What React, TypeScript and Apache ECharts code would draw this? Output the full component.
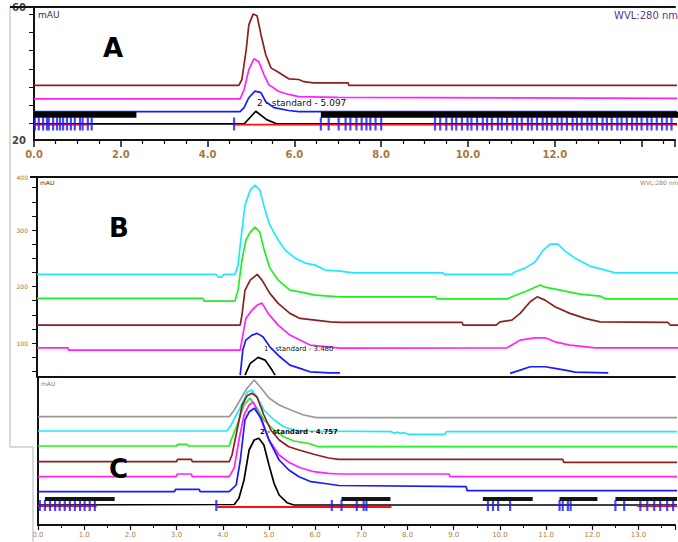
import React, { useEffect, useRef } from 'react';
import * as echarts from 'echarts';

// ---------- Panel A (time, min / mAU) ----------
const aXMaxLabel = 12;
const aBrown = [[0,35.5],[4.72,35.5],[4.79,37.1],[4.89,45.3],[4.95,52.1],[5.05,55.1],[5.14,54.6],[5.23,49.4],[5.34,43.9],[5.46,40.3],[5.64,39.0],[5.87,37.3],[6.10,37.1],[6.22,36.5],[6.44,36.2],[7.24,36.2],[7.25,35.5],[15.4,35.5]];
const aMagenta = [[0,31.8],[4.75,31.8],[4.84,34.3],[4.95,39.8],[5.07,42.8],[5.18,42.0],[5.30,38.4],[5.41,35.7],[5.64,33.8],[5.87,33.0],[6.10,32.4],[7.0,32.2],[15.4,31.9]];
const aBlue = [[0,28.3],[4.75,28.3],[4.84,29.4],[4.95,32.1],[5.09,33.9],[5.23,33.5],[5.34,31.0],[5.53,29.4],[5.87,28.6],[6.10,28.3],[15.4,28.3]];
const aBlack = [[0,24.9],[4.84,24.9],[5.11,28.4],[5.36,26.1],[5.6,24.9],[15.4,24.9]];
const aRed = [[[0,24.7],[1.28,24.7]],[[4.59,24.7],[15.4,24.7]]];
const aBands = [[[0,27.4],[2.36,27.4]],[[6.61,27.4],[15.4,27.4]]];
const aTickLevel = 24.9;
const aTicks = [0.02,0.11,0.21,0.30,0.34,0.44,0.53,0.60,0.67,0.76,0.85,0.94,1.06,1.12,1.24,1.33,4.61,6.61,6.79,7.02,7.18,7.29,7.43,7.55,7.66,7.75,7.87,8.00,9.24,9.36,9.50,9.63,9.73,9.86,9.99,10.08,10.21,10.34,10.44,10.55,10.69,10.78,10.90,11.03,11.13,11.24,11.38,11.47,11.59,11.72,11.82,11.93,12.06,12.16,12.28,12.41,12.51,12.62,12.75,12.85,12.97,13.10,13.20,13.31,13.44,13.54,13.66,13.78,13.89,14.00,14.13,14.23,14.35,14.47,14.58,14.69];
const aYTicks = [25,30,35,40,45,50,55];
const aYLabels = [20.5,57];

// ---------- Panel B ----------
const bCyan = [[0,221.6],[4.11,221.6],[4.15,216.8],[4.24,216.8],[4.28,221.6],[4.54,221.6],[4.61,238],[4.70,300],[4.77,344],[4.89,370.8],[5.0,379.6],[5.11,370.8],[5.23,335.4],[5.34,308.8],[5.53,282.3],[5.69,264.6],[5.92,250.4],[6.15,241.6],[6.38,238],[6.61,229.2],[6.95,227.4],[7.25,224.4],[9.31,224.4],[9.33,221.6],[10.89,221.6],[10.92,224.4],[11.19,232.7],[11.42,243.4],[11.61,264.6],[11.77,275.2],[11.95,275.2],[12.11,262.8],[12.34,250.4],[12.68,236.3],[13.03,229.2],[13.26,224.4],[15.4,224.4]];
const bGreen = [[0,179.1],[3.81,179.1],[3.83,174.3],[4.54,174.3],[4.61,193.8],[4.70,246.7],[4.79,282.3],[4.89,296.5],[5.0,305.3],[5.11,296.5],[5.21,264.6],[5.34,232.7],[5.53,211.5],[5.80,193.8],[6.03,190.8],[6.38,185],[6.95,181.9],[9.15,181.9],[9.17,178.4],[10.80,178.4],[10.89,181.9],[11.19,190.8],[11.54,202.7],[11.65,199.1],[11.88,195.6],[12.22,190.3],[12.45,186.7],[12.91,183.2],[13.03,178.4],[15.4,178.4]];
const bBrown = [[0,131.9],[4.66,131.9],[4.70,149.6],[4.77,193.8],[4.89,211.5],[5.05,221.6],[5.16,211.5],[5.34,188],[5.53,170.3],[5.80,152.6],[6.03,143.7],[6.38,140.7],[6.72,137.7],[6.95,136.6],[9.75,136.6],[9.77,131.9],[10.53,131.9],[10.62,137.7],[10.89,140.7],[11.08,152.6],[11.31,173.1],[11.47,181.9],[11.65,176.1],[11.88,164.2],[12.22,152.6],[12.57,143.7],[12.91,137.7],[14.47,136.6],[14.52,131.9],[15.4,131.9]];
const bMagenta = [[0,91.7],[0.71,91.7],[0.73,87.6],[4.66,87.6],[4.72,114.2],[4.79,143.7],[4.93,158.4],[5.05,167.3],[5.16,170.8],[5.30,152.6],[5.53,131.9],[5.80,114.2],[6.03,105.3],[6.26,96.5],[6.72,92.9],[6.95,91.2],[10.78,91.7],[10.89,96.5],[11.08,105.3],[11.42,109.4],[11.65,109.4],[11.88,102.3],[12.22,96.5],[12.45,94.7],[12.80,91.7],[15.4,91.7]];
const bBlue = [[[4.66,43.4],[4.72,87.6],[4.79,105.3],[4.93,114.2],[5.05,117.2],[5.18,111.2],[5.34,93.5],[5.57,75.8],[5.80,61.1],[6.03,55.2],[6.26,49.2],[6.72,47.4],[6.95,47.4]],[[10.85,46.4],[11.08,52.2],[11.31,58.1],[11.65,58.1],[11.88,55.2],[12.11,52.2],[12.34,48.5],[13.10,47.4]]];
const bBlack = [[4.77,43.4],[4.89,64.1],[5.07,74.7],[5.23,69.9],[5.39,52.2],[5.46,43.4]];
const bYTicks = [50,75,100,125,150,175,200,225,250,275,300,325,350,375];
const bYLabels = [100,200,300,394];

// ---------- Panel C ----------
const cGray = [[0,88.3],[4.14,88.3],[4.25,95],[4.40,107],[4.53,117],[4.68,125],[4.83,117],[5.0,107],[5.22,100],[5.47,95],[5.75,90],[6.03,87.3],[14.5,87.3]];
const cCyan = [[0,74],[4.09,74],[4.18,80],[4.35,95],[4.53,112.7],[4.63,115],[4.74,108],[4.89,95],[5.11,85],[5.32,78.3],[5.54,75],[5.75,74],[7.65,73.3],[7.72,71.5],[7.78,73],[7.85,71.5],[7.91,72.5],[8.02,70.7],[8.81,70.7],[8.84,73.3],[14.5,73.3]];
const cGreen = [[0,59],[3.00,59],[3.02,60.7],[3.23,60.7],[3.25,59],[4.14,59],[4.18,65],[4.31,80],[4.46,100],[4.59,107],[4.74,97],[4.89,85],[5.11,75],[5.32,68.3],[5.54,64],[5.86,61.5],[6.08,58.3],[14.5,58.3]];
const cBrown = [[0,43.3],[3.00,43.3],[3.02,45.7],[3.32,45.7],[3.34,43.3],[4.14,43.3],[4.20,50],[4.31,75],[4.42,100],[4.53,109.3],[4.63,111.7],[4.74,108],[4.89,90],[5.04,75],[5.22,65],[5.43,58.3],[5.65,55],[5.97,50.7],[6.29,47],[6.51,45.7],[11.36,45.7],[11.38,42.7],[14.5,42.7]];
const cMagenta = [[0,28.3],[2.98,28.3],[3.02,31],[3.32,31],[3.34,28.3],[4.14,28.3],[4.25,37.3],[4.35,65],[4.46,90],[4.57,100],[4.66,103],[4.83,85],[5.0,65],[5.22,50],[5.43,42.7],[5.65,37.7],[5.97,33.3],[6.29,31.7],[6.51,31],[8.90,31],[8.92,28.3],[14.5,28.3]];
const cBlue = [[0,13.3],[2.95,13.3],[2.98,15.7],[3.49,15.7],[3.51,13.3],[4.14,13.3],[4.29,20],[4.38,45],[4.48,85],[4.57,93],[4.68,96.7],[4.83,87],[5.0,65],[5.22,45],[5.43,35],[5.65,28.3],[5.91,23.3],[6.29,21],[6.51,19.5],[9.27,18.3],[9.29,14.3],[14.5,14.3]];
const cBlack = [[0,0],[4.25,0.5],[4.35,6.7],[4.46,25],[4.57,55],[4.68,65],[4.78,66.7],[4.89,60],[5.0,40],[5.11,21.7],[5.22,10],[5.39,2.3],[5.54,0],[14.5,0]];
const cRed = [[[0,-1],[1.27,-1]],[[3.88,-2],[7.65,-2]],[[12.97,-1],[14.5,-1]]];
const cBands = [[[0.15,6],[1.66,6]],[[6.57,6],[7.63,6]],[[9.63,6],[10.71,6]],[[11.29,6],[12.11,6]],[[12.50,6],[14.5,6]]];
const cTickLevel = -0.5;
const cTicks = [0.04,0.15,0.26,0.37,0.47,0.58,0.69,0.80,0.91,1.01,1.12,1.23,3.86,6.36,6.57,6.90,7.05,7.11,9.74,9.85,9.96,10.22,11.29,11.36,11.47,11.53,12.50,12.69,13.04,13.19,13.34,13.47,13.62,13.75];

const BROWN = '#8b2020', MAGENTA = '#ff22ff', BLUE = '#1a1aff', BLACK = '#000000', RED = '#ff1010', CYAN = '#22e8ff', GREEN = '#22ee22', GRAY = '#999999';

function line(idx: number, data: number[][], color: string, width = 1.7, z = 2) {
  return { type: 'line', xAxisIndex: idx, yAxisIndex: idx, data, showSymbol: false, symbol: 'none', lineStyle: { color, width }, itemStyle: { color }, z, silent: true };
}
function ticks(idx: number, xs: number[], yv: number, color: string, h: number) {
  return { type: 'scatter', xAxisIndex: idx, yAxisIndex: idx, data: xs.map((x) => [x, yv]), symbol: 'rect', symbolSize: [2.2, h], itemStyle: { color }, z: 4, silent: true };
}

const axisLine = { show: true, onZero: false, lineStyle: { color: '#111', width: 2 } };
const X_MAX = [14.77, 14.70, 13.79];

function topBorder(gridIndex: number) {
  return { gridIndex, type: 'value', position: 'top', min: 0, max: X_MAX[gridIndex], axisLine,
    axisTick: { show: false }, axisLabel: { show: false }, splitLine: { show: false } };
}

export default function App() {
  const ref = useRef<HTMLDivElement>(null);
  useEffect(() => {
    if (!ref.current) return;
    const chart = echarts.init(ref.current, null, { renderer: 'svg' });
    const series: any[] = [
      line(0, aBrown, BROWN), line(0, aMagenta, MAGENTA), line(0, aBlue, BLUE), line(0, aBlack, BLACK),
      ...aRed.map((s) => line(0, s, RED, 1.8, 3)),
      ticks(0, aTicks, aTickLevel, BLUE, 13),
      ...aBands.map((s) => line(0, s, BLACK, 6, 5)),
      line(1, bCyan, CYAN), line(1, bGreen, GREEN), line(1, bBrown, BROWN), line(1, bMagenta, MAGENTA),
      ...bBlue.map((s) => line(1, s, BLUE)), line(1, bBlack, BLACK),
      line(2, cGray, GRAY), line(2, cCyan, CYAN), line(2, cGreen, GREEN), line(2, cBrown, BROWN),
      line(2, cMagenta, MAGENTA), line(2, cBlue, BLUE), line(2, cBlack, BLACK),
      ...cRed.map((s) => line(2, s, RED, 1.8, 3)),
      ticks(2, cTicks, cTickLevel, BLUE, 11),
      ...cBands.map((s) => line(2, s, '#151515', 4, 5)),
    ];
    const textStyle = (x: number, y: number, text: string, font: string, fill: string) => ({ type: 'text', x, y, style: { text, font, fill, textVerticalAlign: 'top' }, z: 20 });
    chart.setOption({
      animation: false,
      backgroundColor: '#ffffff',
      grid: [
        { left: 34, top: 7, right: 0, height: 133 },
        { left: 37, top: 177, right: 0, height: 200 },
        { left: 38, top: 377, right: 0, height: 148 },
      ],
      xAxis: [
        { gridIndex: 0, type: 'value', min: 0, max: X_MAX[0], interval: 2, axisLine, splitLine: { show: false },
          axisTick: { show: true, length: 7, lineStyle: { color: '#111', width: 1.5 } },
          minorTick: { show: true, splitNumber: 4, length: 4, lineStyle: { color: '#111', width: 1.2 } },
          axisLabel: { formatter: (v: number) => (v <= aXMaxLabel + 0.01 ? v.toFixed(1) : ''), fontSize: 10, fontWeight: 'bold', color: '#a8783c', margin: 9, fontFamily: 'DejaVu Sans' } },
        { gridIndex: 1, type: 'value', min: 0, max: X_MAX[1], show: false },
        { gridIndex: 2, type: 'value', min: 0, max: X_MAX[2], interval: 1, axisLine, splitLine: { show: false },
          axisTick: { show: true, length: 5, lineStyle: { color: '#111', width: 1.2 } },
          minorTick: { show: true, splitNumber: 2, length: 3, lineStyle: { color: '#111' } },
          axisLabel: { formatter: (v: number) => (v <= 13.01 ? v.toFixed(1) : ''), fontSize: 7, color: '#b08048', margin: 6, fontFamily: 'DejaVu Sans' } },
        topBorder(0), topBorder(1), topBorder(2),
      ],
      yAxis: [
        { gridIndex: 0, type: 'value', min: 20.5, max: 57, axisLine, splitLine: { show: false },
          axisTick: { show: true, customValues: aYTicks, length: 5, lineStyle: { color: '#111' } },
          axisLabel: { customValues: aYLabels, formatter: (v: number) => String(Math.round(v / 10) * 10), fontSize: 10, fontWeight: 'bold', color: '#444', margin: 8, fontFamily: 'DejaVu Sans' } },
        { gridIndex: 1, type: 'value', min: 40, max: 394, axisLine, splitLine: { show: false },
          axisTick: { show: true, customValues: bYTicks, length: 5, lineStyle: { color: '#111' } },
          axisLabel: { customValues: bYLabels, formatter: (v: number) => (v > 390 ? '400' : String(v)), fontSize: 6, color: '#a07040', margin: 9, fontFamily: 'DejaVu Sans' } },
        { gridIndex: 2, type: 'value', min: -20, max: 128, axisLine, splitLine: { show: false },
          axisTick: { show: false }, axisLabel: { show: false } },
      ],
      series,
      graphic: [
        { type: 'polyline', shape: { points: [[10, 5], [10, 447], [33, 447], [33, 542]] }, style: { stroke: '#b5b5b5', lineWidth: 1, fill: null }, z: 10 },
        { type: 'line', shape: { x1: 10, y1: 7, x2: 34, y2: 7 }, style: { stroke: '#111', lineWidth: 2 }, z: 10 },
        { type: 'line', shape: { x1: 30, y1: 177, x2: 37, y2: 177 }, style: { stroke: '#111', lineWidth: 2 }, z: 10 },
        textStyle(103, 35, 'A', 'bold 26px "DejaVu Sans"', '#000'),
        textStyle(109, 215, 'B', 'bold 26px "DejaVu Sans"', '#000'),
        textStyle(109, 456, 'C', 'bold 26px "DejaVu Sans"', '#000'),
        textStyle(38, 10, 'mAU', '9px "DejaVu Sans"', '#333'),
        textStyle(40, 179, 'mAU', '6px "DejaVu Sans"', '#333'),
        textStyle(41, 380, 'mAU', '6px "DejaVu Sans"', '#a07040'),
        textStyle(614, 10, 'WVL:280 nm', '10px "DejaVu Sans"', '#5a3a7a'),
        textStyle(640, 179, 'WVL:280 nm', '6px "DejaVu Sans"', '#a08060'),
        textStyle(257, 98, '2 - standard - 5.097', '9px "DejaVu Sans"', '#111'),
        textStyle(264, 345, '1 - standard - 3.480', '7px "DejaVu Sans"', '#111'),
        textStyle(260, 428, '2 - standard - 4.757', 'bold 7px "DejaVu Sans"', '#111'),
      ],
    });
    return () => chart.dispose();
  }, []);
  return <div ref={ref} style={{ position: 'fixed', left: 0, top: 0, width: 678, height: 542, background: '#fff' }} />;
}
